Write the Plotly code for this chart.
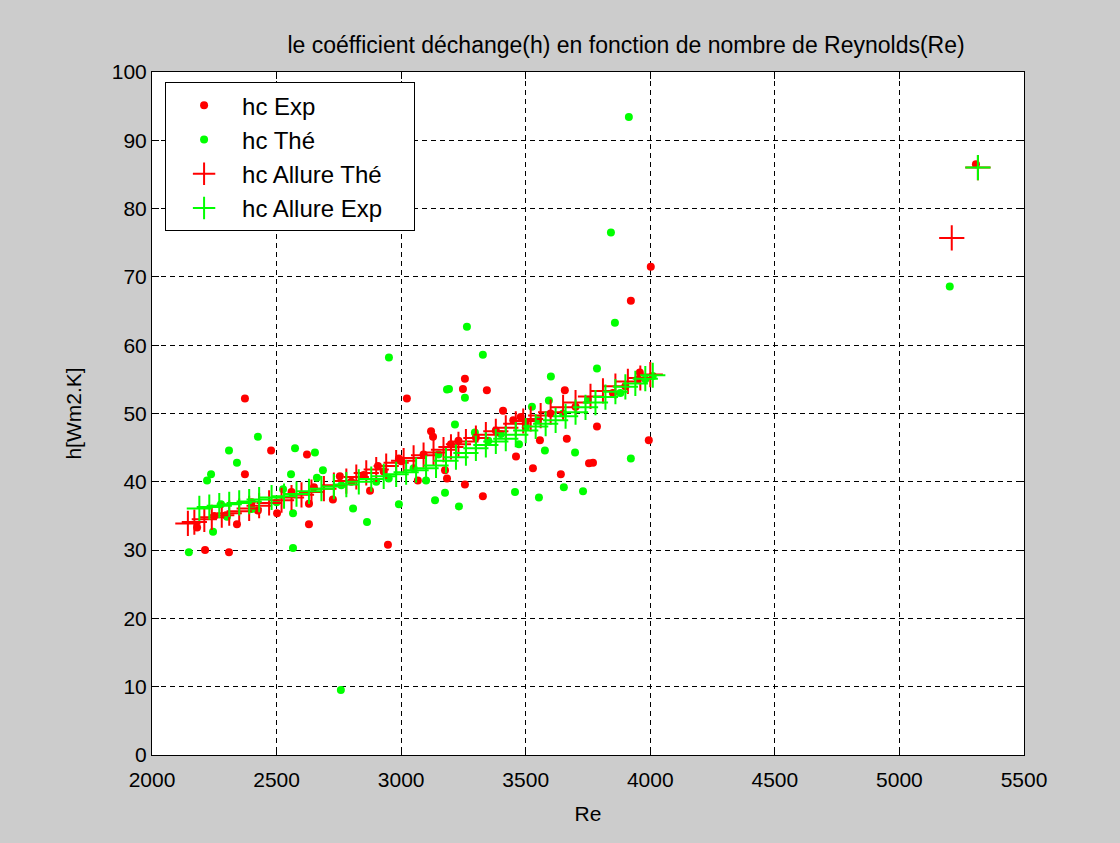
import plotly.graph_objects as go

# ---- data ----
re_exp = [2181, 2213, 2250, 2297, 2309, 2341, 2373, 2373, 2400, 2425, 2478, 2502, 2560, 2622,
          2630, 2630, 2650, 2726, 2754, 2800, 2850, 2875, 2907, 2930, 2947, 2991, 3000, 3023,
          3067, 3090, 3120, 3128, 3176, 3184, 3200, 3230, 3248, 3256, 3256, 3300, 3328, 3344,
          3380, 3409, 3450, 3461, 3480, 3500, 3529, 3557, 3600, 3641, 3657, 3665, 3700, 3754,
          3770, 3786, 3850, 3900, 3922, 3950, 3958, 3994, 4002, 5307]
hc_exp = [33.3, 30.0, 35.0, 35.1, 29.7, 33.8, 52.2, 41.1, 37.0, 35.8, 44.6, 35.4, 38.5, 44.0,
          36.8, 33.8, 39.2, 37.4, 40.8, 40.0, 41.0, 38.7, 42.3, 41.5, 30.8, 43.4, 43.0, 52.2,
          40.2, 44.0, 47.4, 46.6, 41.7, 40.5, 45.5, 46.0, 53.6, 55.1, 39.6, 46.5, 37.9, 53.4,
          47.5, 50.4, 49.0, 43.7, 49.5, 48.5, 42.0, 46.1, 50.0, 41.1, 53.4, 46.3, 51.0, 42.7,
          42.8, 48.1, 53.0, 54.0, 66.5, 55.0, 56.0, 46.1, 71.5, 86.5]

re_the = [2148, 2221, 2237, 2245, 2277, 2301, 2309, 2341, 2400, 2425, 2500, 2526, 2558, 2566,
          2566, 2574, 2654, 2662, 2686, 2758, 2760, 2807, 2863, 2900, 2950, 2951, 2991, 3050,
          3100, 3136, 3150, 3176, 3184, 3192, 3216, 3232, 3256, 3264, 3296, 3328, 3350, 3400,
          3457, 3473, 3500, 3525, 3550, 3553, 3577, 3593, 3601, 3650, 3653, 3698, 3730, 3750,
          3786, 3842, 3858, 3880, 3914, 3922, 3980, 4010, 5202]
hc_the = [29.7, 40.2, 41.1, 32.7, 36.7, 34.9, 44.6, 42.8, 36.0, 46.6, 37.0, 38.9, 41.1, 35.4,
          30.3, 44.9, 44.3, 40.6, 41.7, 9.5, 39.5, 36.1, 34.1, 40.0, 40.5, 58.2, 36.7, 42.0,
          40.2, 37.3, 44.0, 38.4, 53.5, 53.6, 48.4, 36.4, 52.3, 62.7, 47.2, 58.6, 46.0, 47.0,
          38.5, 45.5, 48.0, 51.0, 49.0, 37.7, 44.6, 51.9, 55.4, 50.0, 39.2, 44.3, 38.6, 52.0,
          56.6, 76.5, 63.3, 53.0, 93.4, 43.4, 55.0, 55.5, 68.6]

re_allure_the = [2144, 2170, 2210, 2240, 2280, 2310, 2350, 2390, 2430, 2470, 2520, 2560, 2600,
                 2640, 2690, 2730, 2780, 2820, 2860, 2900, 2940, 2980, 3010, 3050, 3090, 3130,
                 3170, 3200, 3230, 3260, 3300, 3340, 3380, 3420, 3460, 3490, 3520, 3560, 3600,
                 3650, 3700, 3760, 3810, 3860, 3910, 3960, 4000, 5210, 5315]
hc_allure_the = [33.9, 34.1, 34.5, 34.8, 35.1, 35.4, 35.7, 36.1, 36.5, 36.9, 37.3, 37.7, 38.1,
                 38.5, 39.0, 39.5, 40.1, 40.7, 41.3, 41.8, 42.3, 42.8, 43.1, 43.5, 43.9, 44.3,
                 44.7, 45.1, 45.5, 45.9, 46.4, 46.9, 47.4, 47.9, 48.5, 48.9, 49.2, 49.7, 50.2,
                 50.9, 51.6, 52.5, 53.3, 54.0, 54.7, 55.2, 55.7, 75.7, 86.0]

re_allure_exp = [2190, 2230, 2270, 2310, 2350, 2390, 2430, 2480, 2530, 2580, 2630, 2680, 2730,
                 2780, 2830, 2880, 2930, 2980, 3020, 3060, 3100, 3140, 3180, 3220, 3260, 3300,
                 3340, 3380, 3420, 3460, 3500, 3540, 3580, 3620, 3660, 3700, 3740, 3780, 3820,
                 3860, 3900, 3940, 3980, 4010, 5315]
hc_allure_exp = [36.1, 36.3, 36.5, 36.7, 36.9, 37.1, 37.4, 37.7, 37.9, 38.2, 38.6, 39.0, 39.3,
                 39.6, 40.0, 40.4, 40.8, 41.1, 41.4, 41.7, 42.0, 42.4, 43.1, 43.6, 44.2, 44.9,
                 45.4, 45.9, 46.3, 46.9, 47.5, 48.1, 48.5, 49.0, 49.6, 50.2, 50.9, 51.6, 52.4,
                 53.2, 53.9, 54.4, 55.1, 55.6, 86.0]

x_ticks = [2000, 2500, 3000, 3500, 4000, 4500, 5000, 5500]
y_ticks = [0, 10, 20, 30, 40, 50, 60, 70, 80, 90, 100]

FONT = "Liberation Sans, Arial, sans-serif"
RED = "#ff0000"
GREEN = "#00ff00"
PAD = "\u00a0" * 4  # right padding inside the legend box

fig = go.Figure()
fig.add_trace(go.Scatter(x=re_exp, y=hc_exp, mode="markers", name="hc Exp",
                         legendgroup="a",
                         marker=dict(symbol="circle", size=8, color=RED, line=dict(width=0))))
fig.add_trace(go.Scatter(x=re_the, y=hc_the, mode="markers", name="hc Thé",
                         legendgroup="b",
                         marker=dict(symbol="circle", size=8, color=GREEN, line=dict(width=0))))
fig.add_trace(go.Scatter(x=re_allure_the, y=hc_allure_the, mode="markers", name="hc Allure Thé",
                         legendgroup="c",
                         marker=dict(symbol="cross-thin", size=18, color=RED,
                                     line=dict(width=2, color=RED))))
fig.add_trace(go.Scatter(x=re_allure_exp, y=hc_allure_exp, mode="markers", name="hc Allure Exp" + PAD,
                         legendgroup="d",
                         marker=dict(symbol="cross-thin", size=18, color=GREEN,
                                     line=dict(width=2, color=GREEN))))

axis_common = dict(
    showline=True, linecolor="black", linewidth=1, mirror="ticks",
    ticks="inside", ticklen=7, tickcolor="black", tickwidth=1,
    showgrid=True, gridcolor="black", gridwidth=1, griddash="5px,4px",
    zeroline=False, tickfont=dict(family=FONT, size=21, color="black"),
)

fig.update_xaxes(range=[2000, 5500], tickvals=x_ticks, ticktext=[str(v) for v in x_ticks],
                 ticklabelstandoff=6,
                 title=dict(text="Re", font=dict(family=FONT, size=21, color="black"), standoff=16),
                 **axis_common)
fig.update_yaxes(range=[0, 100], tickvals=y_ticks, ticktext=[str(v) for v in y_ticks],
                 title=dict(text="h[Wm2.K]", font=dict(family=FONT, size=21, color="black"), standoff=24),
                 **axis_common)

fig.update_layout(
    width=1120, height=843,
    paper_bgcolor="#cccccc", plot_bgcolor="white",
    margin=dict(l=152, r=96, t=72, b=88),
    title=dict(text="le coéfficient déchange(h) en fonction de nombre de Reynolds(Re)",
               x=0.559, xanchor="center", y=0.947, yanchor="middle",
               font=dict(family=FONT, size=23, color="black")),
    font=dict(family=FONT, color="black"),
    showlegend=True,
    legend=dict(x=0.015, y=0.985, xanchor="left", yanchor="top",
                bgcolor="white", bordercolor="black", borderwidth=1,
                font=dict(family=FONT, size=24, color="black"),
                tracegroupgap=0, itemsizing="trace", itemwidth=66),
)

fig.write_html("out.html")
